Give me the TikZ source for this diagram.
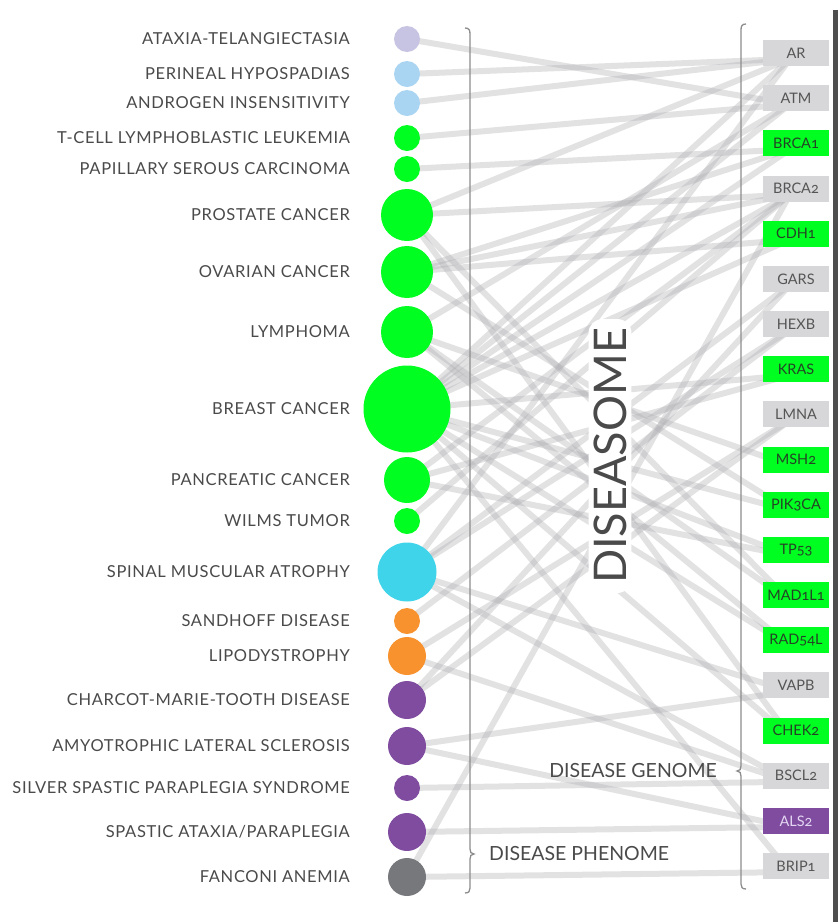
\documentclass[tikz,border=0pt]{standalone}
\usepackage{fontspec}
\setmainfont{Lato}[Numbers=OldStyle]
\definecolor{lgreen}{HTML}{00FF21}
\definecolor{lav}{HTML}{C6C3E3}
\definecolor{lblue}{HTML}{A9D5F2}
\definecolor{cyanc}{HTML}{40D4EA}
\definecolor{orng}{HTML}{F7922F}
\definecolor{purp}{HTML}{7F4CA0}
\definecolor{dgray}{HTML}{77787C}
\definecolor{gbox}{HTML}{D7D7D9}
\definecolor{txt}{HTML}{4A4A4A}
\definecolor{gtxt}{HTML}{555555}
\definecolor{greentxt}{HTML}{264226}
\definecolor{purptxt}{HTML}{E4D6F2}
\definecolor{edgec}{HTML}{AEAEB2}
\definecolor{brack}{HTML}{8C8C8C}
\definecolor{barc}{HTML}{4E4E4E}
\pgfdeclarelayer{bg}
\pgfsetlayers{bg,main}
\tikzset{
  dis/.style={circle,inner sep=0pt,draw=none,minimum size=#1},
  lab/.style={anchor=east,text=txt,inner sep=0pt,font=\fontsize{16.5}{16.5}\selectfont\addfontfeature{LetterSpace=4}},
  gene/.style={rectangle,inner sep=0pt,minimum width=66pt,minimum height=26pt,font=\fontsize{14.5}{14.5}\selectfont},
  ggray/.style={gene,fill=gbox,text=gtxt},
  ggreen/.style={gene,fill=lgreen,text=greentxt},
  gpurp/.style={gene,fill=purp,text=purptxt},
  link/.style={draw=edgec,line width=6pt,opacity=0.36},
  bracketline/.style={draw=brack,line width=1.3pt},
  sectlab/.style={text=txt,inner sep=0pt,font=\fontsize{19.5}{19.5}\selectfont},
}
\begin{document}
\begin{tikzpicture}[x=1pt,y=-1pt]
\useasboundingbox (0,0) rectangle (838,922);
% diseases
\foreach \n/\yy/\dd/\cc/\tt in {
 d1/39/26/lav/{ATAXIA-TELANGIECTASIA},
 d2/74/26/lblue/{PERINEAL HYPOSPADIAS},
 d3/103/26/lblue/{ANDROGEN INSENSITIVITY},
 d4/138/26/lgreen/{T-CELL LYMPHOBLASTIC LEUKEMIA},
 d5/169/26/lgreen/{PAPILLARY SEROUS CARCINOMA},
 d6/215/52/lgreen/{PROSTATE CANCER},
 d7/272/52/lgreen/{OVARIAN CANCER},
 d8/332/52/lgreen/{LYMPHOMA},
 d9/409/87/lgreen/{BREAST CANCER},
 d10/480/46/lgreen/{PANCREATIC CANCER},
 d11/521/26/lgreen/{WILMS TUMOR},
 d12/572/59/cyanc/{SPINAL MUSCULAR ATROPHY},
 d13/621/26/orng/{SANDHOFF DISEASE},
 d14/656/38/orng/{LIPODYSTROPHY},
 d15/700/38/purp/{CHARCOT-MARIE-TOOTH DISEASE},
 d16/746/38/purp/{AMYOTROPHIC LATERAL SCLEROSIS},
 d17/788/26/purp/{SILVER SPASTIC PARAPLEGIA SYNDROME},
 d18/832/38/purp/{SPASTIC ATAXIA/PARAPLEGIA},
 d19/877/38/dgray/{FANCONI ANEMIA}}{
  \node[dis=\dd pt,fill=\cc] (\n) at (407,\yy) {};
  \node[lab] (\n l) at (350,\yy) {\tt};
}
% genes
\foreach \n/\i/\st/\tt in {
 AR/0/ggray/AR, ATM/1/ggray/ATM, BRCAa/2/ggreen/BRCA1, BRCAb/3/ggray/BRCA2,
 CDH/4/ggreen/CDH1, GARS/5/ggray/GARS, HEXB/6/ggray/HEXB, KRAS/7/ggreen/KRAS,
 LMNA/8/ggray/LMNA, MSH/9/ggreen/MSH2, PIK/10/ggreen/PIK3CA, TP/11/ggreen/TP53,
 MAD/12/ggreen/MAD1L1, RAD/13/ggreen/RAD54L, VAPB/14/ggray/VAPB, CHEK/15/ggreen/CHEK2,
 BSCL/16/ggray/BSCL2, ALS/17/gpurp/ALS2, BRIP/18/ggray/BRIP1}{
  \node[\st] (\n) at (796,53+45.17*\i) {\tt};
  \coordinate (\n e) at (790,59+45.17*\i);
}
% title and section labels
\node[rotate=90,fill=white,rounded corners=14pt,inner xsep=9pt,inner ysep=5pt,text=txt,
      font=\fontsize{45}{45}\selectfont] (title) at (610,456) {DISEASOME};
\node[sectlab,anchor=east] (genome) at (717,771) {DISEASE GENOME};
\node[sectlab,anchor=west] (phenome) at (489,854) {DISEASE PHENOME};
% brackets
\draw[bracketline] (465,28) .. controls (469,28) and (470,30) .. (470,34) -- (470,849)
  .. controls (470,852) and (471,854) .. (474,854) .. controls (471,854) and (470,856) .. (470,859)
  -- (470,888) .. controls (470,891) and (469,893) .. (465,893);
\draw[bracketline] (746,24) .. controls (742,24) and (741,26) .. (741,30) -- (741,766)
  .. controls (741,769) and (740,771) .. (737,771) .. controls (740,771) and (741,773) .. (741,776)
  -- (741,884) .. controls (741,887) and (742,889) .. (746,889);
% right bar
\fill[barc] (833,10) rectangle (838,922);
% links
\begin{pgfonlayer}{bg}
\foreach \a/\b in {
 d1/ATM, d2/AR, d3/AR, d4/ATM, d5/BRCAa,
 d6/AR, d6/BRCAb, d6/MAD, d6/CHEK,
 d7/BRCAa, d7/BRCAb, d7/CDH, d7/PIK,
 d8/ATM, d8/MAD, d8/RAD, d8/MSH,
 d9/AR, d9/ATM, d9/BRCAa, d9/BRCAb, d9/CDH, d9/KRAS, d9/PIK, d9/TP, d9/RAD, d9/CHEK, d9/BRIP,
 d10/BRCAb, d10/KRAS, d10/TP,
 d11/BRCAb,
 d12/AR, d12/GARS, d12/HEXB, d12/VAPB, d12/BSCL,
 d13/HEXB, d14/LMNA, d14/BSCL, d15/GARS, d15/LMNA,
 d16/VAPB, d16/ALS, d17/BSCL, d18/ALS, d19/BRCAb, d19/BRIP}{
  \draw[link] (\a.center) -- (\b e);
}
\end{pgfonlayer}
\end{tikzpicture}
\end{document}
